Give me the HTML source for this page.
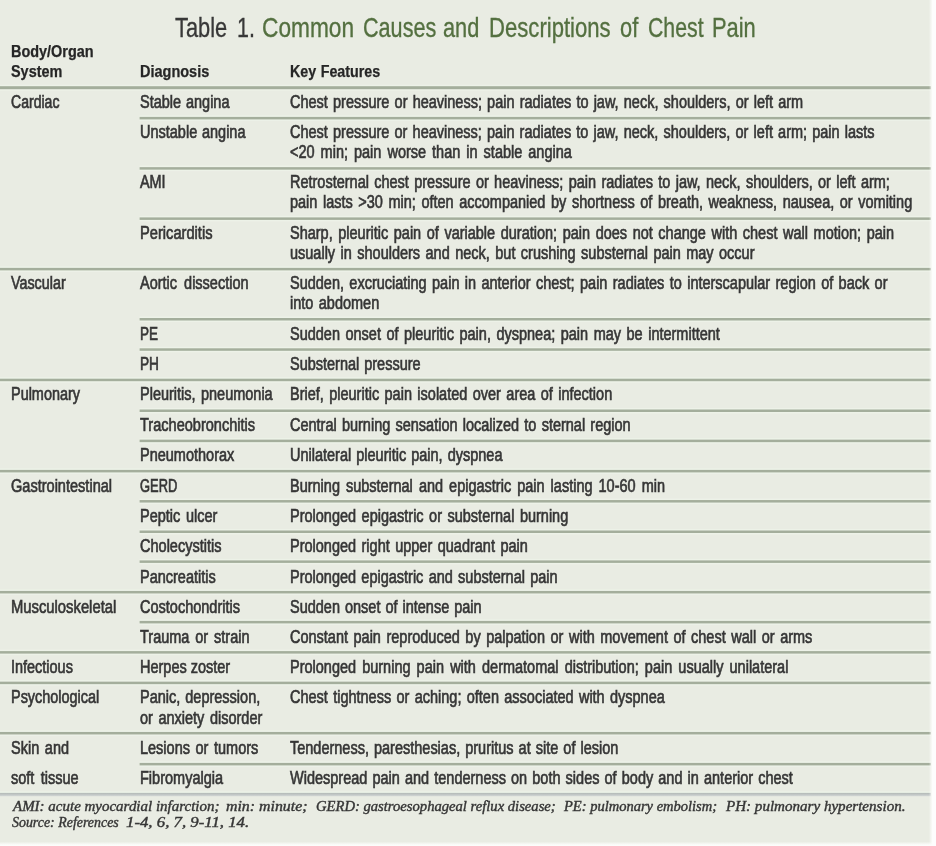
<!DOCTYPE html>
<html lang="en"><head><meta charset="utf-8"><title>Table 1. Common Causes and Descriptions of Chest Pain</title>
<style>
html,body{margin:0;padding:0;background:#fff}
#p{position:relative;width:936px;height:846px;overflow:hidden;background:#fdfdfd}
#bg{position:absolute;left:0;top:0;width:932px;height:846px;background:linear-gradient(to bottom,#e9ece3 0,#e9ece3 841.5px,#fcfdfb 845px)}
#p span{position:absolute;white-space:pre;transform-origin:0 0;line-height:1;display:block}
#p .b{font:normal normal 17.5px/1 "Liberation Sans",sans-serif;color:#363636}
#p .h{font:normal bold 16px/1 "Liberation Sans",sans-serif;color:#262626}
#p .t1{font:normal normal 28px/1 "Liberation Sans",sans-serif;color:#383838}
#p .t2{font:normal normal 28px/1 "Liberation Sans",sans-serif;color:#547040}
#p .f{font:italic normal 14px/1 "Liberation Serif",serif;color:#363636}
#p .b{-webkit-text-stroke:0.65px #363636}
#p .h{-webkit-text-stroke:0.25px #262626}
#p .f{-webkit-text-stroke:0.4px #363636}
#p .t1{-webkit-text-stroke:0.35px #383838}
#p .t2{-webkit-text-stroke:0.35px #547040}
#tx{position:absolute;left:0;top:0;width:936px;height:846px;filter:blur(0.55px)}
#rl{position:absolute;left:0;top:0}
#re{position:absolute;left:929px;top:0;width:4px;height:846px;background:linear-gradient(to right,rgba(253,253,252,0) 0,rgba(253,253,252,0.55) 45%,#fdfdfc 100%)}
</style></head>
<body>
<div id="p"><div id="bg"></div>
<div id="tx">
<svg id="rl" width="936" height="846" viewBox="0 0 936 846">
<rect x="0" y="84.71" width="931" height="6.00" fill="#edf2e8"/><rect x="0" y="86.21" width="931" height="3.00" fill="#a4ae9c"/>
<rect x="139.6" y="115.40" width="791.4" height="5.50" fill="#edf2e8"/><rect x="139.6" y="116.90" width="791.4" height="2.50" fill="#a4ae9c"/>
<rect x="139.6" y="165.65" width="791.4" height="5.50" fill="#edf2e8"/><rect x="139.6" y="167.15" width="791.4" height="2.50" fill="#a4ae9c"/>
<rect x="139.6" y="215.90" width="791.4" height="5.50" fill="#edf2e8"/><rect x="139.6" y="217.40" width="791.4" height="2.50" fill="#a4ae9c"/>
<rect x="0" y="266.37" width="931" height="5.50" fill="#edf2e8"/><rect x="0" y="267.87" width="931" height="2.50" fill="#a4ae9c"/>
<rect x="139.6" y="316.50" width="791.4" height="5.50" fill="#edf2e8"/><rect x="139.6" y="318.00" width="791.4" height="2.50" fill="#a4ae9c"/>
<rect x="139.6" y="346.80" width="791.4" height="5.50" fill="#edf2e8"/><rect x="139.6" y="348.30" width="791.4" height="2.50" fill="#a4ae9c"/>
<rect x="0" y="377.20" width="931" height="5.50" fill="#edf2e8"/><rect x="0" y="378.70" width="931" height="2.50" fill="#a4ae9c"/>
<rect x="139.6" y="408.00" width="791.4" height="5.50" fill="#edf2e8"/><rect x="139.6" y="409.50" width="791.4" height="2.50" fill="#a4ae9c"/>
<rect x="139.6" y="438.15" width="791.4" height="5.50" fill="#edf2e8"/><rect x="139.6" y="439.65" width="791.4" height="2.50" fill="#a4ae9c"/>
<rect x="0" y="468.40" width="931" height="5.50" fill="#edf2e8"/><rect x="0" y="469.90" width="931" height="2.50" fill="#a4ae9c"/>
<rect x="139.6" y="498.55" width="791.4" height="5.50" fill="#edf2e8"/><rect x="139.6" y="500.05" width="791.4" height="2.50" fill="#a4ae9c"/>
<rect x="139.6" y="529.00" width="791.4" height="5.50" fill="#edf2e8"/><rect x="139.6" y="530.50" width="791.4" height="2.50" fill="#a4ae9c"/>
<rect x="139.6" y="558.90" width="791.4" height="5.50" fill="#edf2e8"/><rect x="139.6" y="560.40" width="791.4" height="2.50" fill="#a4ae9c"/>
<rect x="0" y="589.45" width="931" height="5.50" fill="#edf2e8"/><rect x="0" y="590.95" width="931" height="2.50" fill="#a4ae9c"/>
<rect x="139.6" y="619.40" width="791.4" height="5.50" fill="#edf2e8"/><rect x="139.6" y="620.90" width="791.4" height="2.50" fill="#a4ae9c"/>
<rect x="0" y="649.60" width="931" height="5.50" fill="#edf2e8"/><rect x="0" y="651.10" width="931" height="2.50" fill="#a4ae9c"/>
<rect x="0" y="680.15" width="931" height="5.50" fill="#edf2e8"/><rect x="0" y="681.65" width="931" height="2.50" fill="#a4ae9c"/>
<rect x="0" y="730.45" width="931" height="5.50" fill="#edf2e8"/><rect x="0" y="731.95" width="931" height="2.50" fill="#a4ae9c"/>
<rect x="139.6" y="761.40" width="791.4" height="5.50" fill="#edf2e8"/><rect x="139.6" y="762.90" width="791.4" height="2.50" fill="#a4ae9c"/>
<defs><linearGradient id="fg" x1="0" y1="0" x2="0" y2="1"><stop offset="0" stop-color="#b2b8b6"/><stop offset="0.35" stop-color="#bcc2c1"/><stop offset="1" stop-color="#d3d7d6"/></linearGradient></defs>
<rect x="0" y="791.40" width="931" height="1.5" fill="#edf2e8"/><rect x="0" y="792.90" width="931" height="3.3" fill="url(#fg)"/>
</svg>
<span class="h" style="left:10.90px;top:44px;transform:scaleX(0.9021)">Body/Organ</span>
<span class="h" style="left:10.90px;top:64px;transform:scaleX(0.9013)">System</span>
<span class="h" style="left:139.50px;top:64px;transform:scaleX(0.9051)">Diagnosis</span>
<span class="h" style="left:290.00px;top:64px;transform:scaleX(0.8930);word-spacing:0.53px">Key Features</span>
<span class="b" style="left:10.90px;top:94px;transform:scaleX(0.8026)">Cardiac</span>
<span class="b" style="left:139.50px;top:94px;transform:scaleX(0.8280);word-spacing:1.03px">Stable angina</span>
<span class="b" style="left:290.00px;top:94px;transform:scaleX(0.8280);word-spacing:1.39px">Chest pressure or heaviness; pain radiates to jaw, neck, shoulders, or left arm</span>
<span class="b" style="left:139.50px;top:124px;transform:scaleX(0.8280);word-spacing:0.91px">Unstable angina</span>
<span class="b" style="left:290.00px;top:124px;transform:scaleX(0.8280);word-spacing:1.38px">Chest pressure or heaviness; pain radiates to jaw, neck, shoulders, or left arm; pain lasts</span>
<span class="b" style="left:290.00px;top:144px;transform:scaleX(0.8280);word-spacing:2.41px">&lt;20 min; pain worse than in stable angina</span>
<span class="b" style="left:139.50px;top:174px;transform:scaleX(0.8231)">AMI</span>
<span class="b" style="left:290.00px;top:174px;transform:scaleX(0.8280);word-spacing:1.56px">Retrosternal chest pressure or heaviness; pain radiates to jaw, neck, shoulders, or left arm;</span>
<span class="b" style="left:290.00px;top:194px;transform:scaleX(0.8280);word-spacing:1.87px">pain lasts &gt;30 min; often accompanied by shortness of breath, weakness, nausea, or vomiting</span>
<span class="b" style="left:139.50px;top:225px;transform:scaleX(0.8375)">Pericarditis</span>
<span class="b" style="left:290.00px;top:225px;transform:scaleX(0.8280);word-spacing:1.87px">Sharp, pleuritic pain of variable duration; pain does not change with chest wall motion; pain</span>
<span class="b" style="left:290.00px;top:245px;transform:scaleX(0.8280);word-spacing:1.72px">usually in shoulders and neck, but crushing substernal pain may occur</span>
<span class="b" style="left:10.90px;top:275px;transform:scaleX(0.8184)">Vascular</span>
<span class="b" style="left:139.50px;top:275px;transform:scaleX(0.8280);word-spacing:3.63px">Aortic dissection</span>
<span class="b" style="left:290.00px;top:275px;transform:scaleX(0.8280);word-spacing:1.63px">Sudden, excruciating pain in anterior chest; pain radiates to interscapular region of back or</span>
<span class="b" style="left:290.00px;top:295px;transform:scaleX(0.8280);word-spacing:1.69px">into abdomen</span>
<span class="b" style="left:139.50px;top:326px;transform:scaleX(0.7719)">PE</span>
<span class="b" style="left:290.00px;top:326px;transform:scaleX(0.8280);word-spacing:1.80px">Sudden onset of pleuritic pain, dyspnea; pain may be intermittent</span>
<span class="b" style="left:139.50px;top:356px;transform:scaleX(0.7815)">PH</span>
<span class="b" style="left:290.00px;top:356px;transform:scaleX(0.8280);word-spacing:1.13px">Substernal pressure</span>
<span class="b" style="left:10.90px;top:386px;transform:scaleX(0.8248)">Pulmonary</span>
<span class="b" style="left:139.50px;top:386px;transform:scaleX(0.8280);word-spacing:1.68px">Pleuritis, pneumonia</span>
<span class="b" style="left:290.00px;top:386px;transform:scaleX(0.8280);word-spacing:1.67px">Brief, pleuritic pain isolated over area of infection</span>
<span class="b" style="left:139.50px;top:417px;transform:scaleX(0.8313)">Tracheobronchitis</span>
<span class="b" style="left:290.00px;top:417px;transform:scaleX(0.8280);word-spacing:1.44px">Central burning sensation localized to sternal region</span>
<span class="b" style="left:139.50px;top:447px;transform:scaleX(0.8285)">Pneumothorax</span>
<span class="b" style="left:290.00px;top:447px;transform:scaleX(0.8280);word-spacing:1.23px">Unilateral pleuritic pain, dyspnea</span>
<span class="b" style="left:10.90px;top:478px;transform:scaleX(0.8310)">Gastrointestinal</span>
<span class="b" style="left:139.50px;top:478px;transform:scaleX(0.7371)">GERD</span>
<span class="b" style="left:290.00px;top:478px;transform:scaleX(0.8280);word-spacing:2.44px">Burning substernal and epigastric pain lasting 10-60 min</span>
<span class="b" style="left:139.50px;top:508px;transform:scaleX(0.8280);word-spacing:2.00px">Peptic ulcer</span>
<span class="b" style="left:290.00px;top:508px;transform:scaleX(0.8280);word-spacing:1.80px">Prolonged epigastric or substernal burning</span>
<span class="b" style="left:139.50px;top:538px;transform:scaleX(0.8297)">Cholecystitis</span>
<span class="b" style="left:290.00px;top:538px;transform:scaleX(0.8280);word-spacing:1.75px">Prolonged right upper quadrant pain</span>
<span class="b" style="left:139.50px;top:569px;transform:scaleX(0.8279)">Pancreatitis</span>
<span class="b" style="left:290.00px;top:569px;transform:scaleX(0.8280);word-spacing:1.51px">Prolonged epigastric and substernal pain</span>
<span class="b" style="left:10.90px;top:599px;transform:scaleX(0.8454)">Musculoskeletal</span>
<span class="b" style="left:139.50px;top:599px;transform:scaleX(0.8290)">Costochondritis</span>
<span class="b" style="left:290.00px;top:599px;transform:scaleX(0.8280);word-spacing:1.18px">Sudden onset of intense pain</span>
<span class="b" style="left:139.50px;top:629px;transform:scaleX(0.8280);word-spacing:2.27px">Trauma or strain</span>
<span class="b" style="left:290.00px;top:629px;transform:scaleX(0.8280);word-spacing:1.83px">Constant pain reproduced by palpation or with movement of chest wall or arms</span>
<span class="b" style="left:10.90px;top:659px;transform:scaleX(0.8263)">Infectious</span>
<span class="b" style="left:139.50px;top:659px;transform:scaleX(0.8280);word-spacing:-0.05px">Herpes zoster</span>
<span class="b" style="left:290.00px;top:659px;transform:scaleX(0.8280);word-spacing:2.52px">Prolonged burning pain with dermatomal distribution; pain usually unilateral</span>
<span class="b" style="left:10.90px;top:689px;transform:scaleX(0.8246)">Psychological</span>
<span class="b" style="left:139.50px;top:689px;transform:scaleX(0.8280);word-spacing:1.21px">Panic, depression,</span>
<span class="b" style="left:139.50px;top:710px;transform:scaleX(0.8280);word-spacing:1.85px">or anxiety disorder</span>
<span class="b" style="left:290.00px;top:689px;transform:scaleX(0.8280);word-spacing:1.57px">Chest tightness or aching; often associated with dyspnea</span>
<span class="b" style="left:10.90px;top:740px;transform:scaleX(0.8280);word-spacing:1.95px">Skin and</span>
<span class="b" style="left:139.50px;top:740px;transform:scaleX(0.8280);word-spacing:1.89px">Lesions or tumors</span>
<span class="b" style="left:290.00px;top:740px;transform:scaleX(0.8280);word-spacing:1.24px">Tenderness, paresthesias, pruritus at site of lesion</span>
<span class="b" style="left:10.90px;top:770px;transform:scaleX(0.8280);word-spacing:2.87px">soft tissue</span>
<span class="b" style="left:139.50px;top:770px;transform:scaleX(0.8294)">Fibromyalgia</span>
<span class="b" style="left:290.00px;top:770px;transform:scaleX(0.8280);word-spacing:1.32px">Widespread pain and tenderness on both sides of body and in anterior chest</span>
<span class="t1" style="left:175.00px;top:14px;transform:scaleX(0.7790)">Table</span>
<span class="t1" style="left:236.77px;top:14px;transform:scaleX(0.7664)">1.</span>
<span class="t2" style="left:261.89px;top:14px;transform:scaleX(0.8107)">Common</span>
<span class="t2" style="left:362.53px;top:14px;transform:scaleX(0.7715)">Causes</span>
<span class="t2" style="left:443.22px;top:14px;transform:scaleX(0.7770)">and</span>
<span class="t2" style="left:489.12px;top:14px;transform:scaleX(0.7898)">Descriptions</span>
<span class="t2" style="left:619.92px;top:14px;transform:scaleX(0.7797)">of</span>
<span class="t2" style="left:647.54px;top:14px;transform:scaleX(0.7600)">Chest</span>
<span class="t2" style="left:712.44px;top:14px;transform:scaleX(0.7814)">Pain</span>
<span class="f" style="left:12.57px;top:800px;transform:scaleX(1.0698)">AMI: acute myocardial infarction;</span>
<span class="f" style="left:226.00px;top:800px;transform:scaleX(1.1324)">min: minute;</span>
<span class="f" style="left:316.00px;top:800px;transform:scaleX(1.0443)">GERD: gastroesophageal reflux disease;</span>
<span class="f" style="left:564.34px;top:800px;transform:scaleX(1.0359)">PE: pulmonary embolism;</span>
<span class="f" style="left:726.08px;top:800px;transform:scaleX(1.0759)">PH: pulmonary hypertension.</span>
<span class="f" style="left:11.50px;top:816px;transform:scaleX(0.9939)">Source: References</span>
<span class="f" style="left:126.00px;top:816px;transform:scaleX(1.1986)">1-4, 6, 7, 9-11, 14.</span>
</div>
<div id="re"></div>
</div>
</body></html>
